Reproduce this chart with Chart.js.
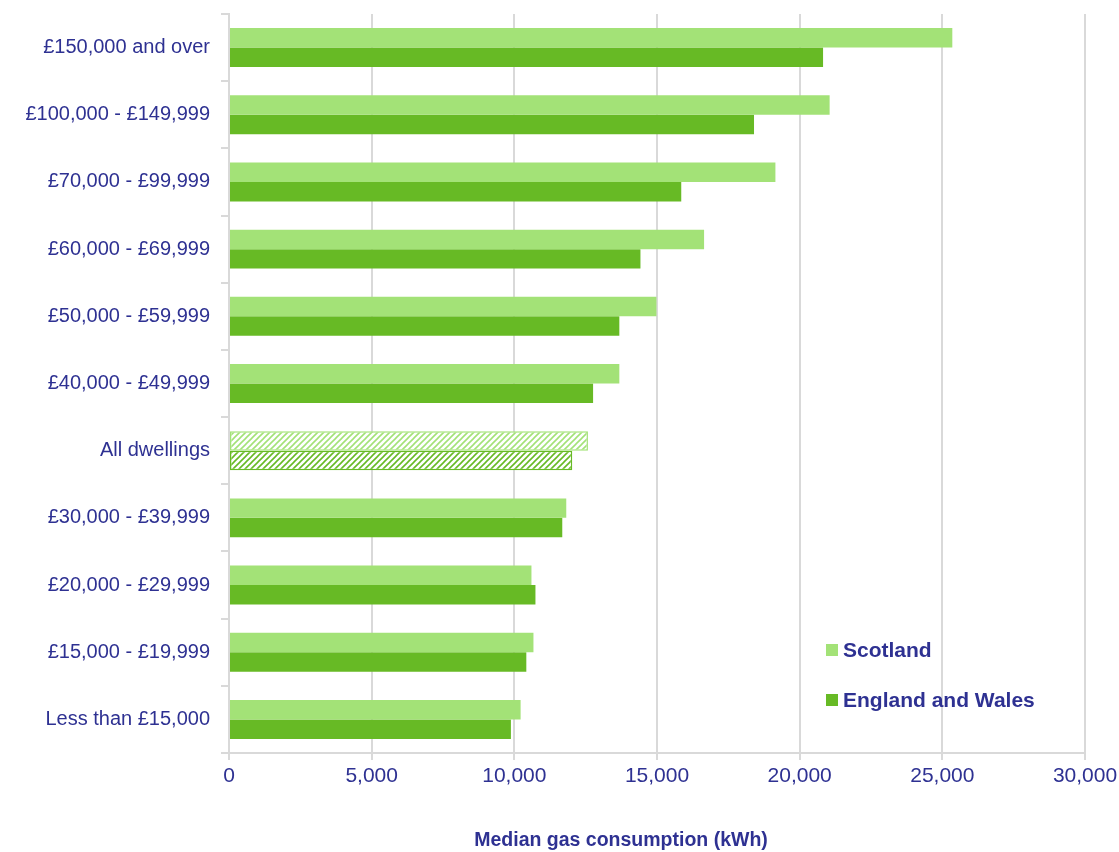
<!DOCTYPE html>
<html>
<head>
<meta charset="utf-8">
<script src="https://cdn.jsdelivr.net/npm/chart.js@4.4.1/dist/chart.umd.min.js"></script>
<style>
  html, body { margin: 0; background: #fff; }
  #wrap { width: 1119px; height: 852px; position: relative; }
</style>
</head>
<body>
<div id="wrap"><canvas id="chart"></canvas></div>
<script>
// Household income bands, top to bottom
const bands = [
  "£150,000 and over", "£100,000 - £149,999", "£70,000 - £99,999", "£60,000 - £69,999",
  "£50,000 - £59,999", "£40,000 - £49,999", "All dwellings", "£30,000 - £39,999",
  "£20,000 - £29,999", "£15,000 - £19,999", "Less than £15,000"
];
// Median gas consumption, kWh
const scotland     = [25350, 21050, 19150, 16650, 14980, 13680, 12580, 11820, 10600, 10670, 10220];
const englandWales = [20820, 18400, 15850, 14420, 13680, 12760, 12030, 11680, 10740, 10420, 9880];
const xTicks = [0, 5000, 10000, 15000, 20000, 25000, 30000];
const summaryBand = "All dwellings";

const navy = "#2E3192";
const lightGreen = "#A3E277";
const darkGreen = "#67BA25";
const gridGrey = "#D9D9D9";
const fontFamily = "'Liberation Sans', Arial, sans-serif";

// diagonal hatch for the "All dwellings" row
function hatch(color) {
  const c = document.createElement("canvas");
  c.width = 6; c.height = 6;
  const g = c.getContext("2d");
  g.fillStyle = "#fff";
  g.fillRect(0, 0, 6, 6);
  g.strokeStyle = color;
  g.lineWidth = 1.6;
  g.beginPath();
  g.moveTo(-1, 7); g.lineTo(7, -1);
  g.moveTo(-1, 1); g.lineTo(1, -1);
  g.moveTo(5, 7); g.lineTo(7, 5);
  g.stroke();
  return g.createPattern(c, "repeat");
}

const ctx = document.getElementById("chart").getContext("2d");
const fills = (color) => bands.map(b => b === summaryBand ? hatch(color) : color);
const borders = () => bands.map(b => b === summaryBand ? 1.5 : 0);

// legend drawn inside the plot, lower right
const innerLegend = {
  id: "innerLegend",
  afterDraw(chart) {
    const g = chart.ctx;
    const rows = [650, 700];
    g.save();
    g.font = "bold 21px " + fontFamily;
    g.textBaseline = "middle";
    chart.data.datasets.forEach((ds, i) => {
      g.fillStyle = ds.legendColor;
      g.fillRect(826, rows[i] - 6, 12, 12);
      g.fillStyle = navy;
      g.fillText(ds.label, 843, rows[i] + 1);
    });
    g.restore();
  }
};

// x axis caption
const xCaption = {
  id: "xCaption",
  afterDraw(chart) {
    const g = chart.ctx;
    g.save();
    g.font = "bold 19.5px " + fontFamily;
    g.fillStyle = navy;
    g.textAlign = "center";
    g.textBaseline = "middle";
    g.fillText("Median gas consumption (kWh)", 621, 841);
    g.restore();
  }
};

new Chart(ctx, {
  type: "bar",
  data: {
    labels: bands,
    datasets: [
      {
        label: "Scotland",
        data: scotland,
        legendColor: lightGreen,
        backgroundColor: fills(lightGreen),
        borderColor: lightGreen,
        borderWidth: borders(),
        borderSkipped: false
      },
      {
        label: "England and Wales",
        data: englandWales,
        legendColor: darkGreen,
        backgroundColor: fills(darkGreen),
        borderColor: darkGreen,
        borderWidth: borders(),
        borderSkipped: false
      }
    ]
  },
  options: {
    indexAxis: "y",
    responsive: true,
    maintainAspectRatio: false,
    animation: false,
    categoryPercentage: 0.58,
    barPercentage: 1.0,
    layout: { padding: { top: 14, right: 34, left: 10, bottom: 50 } },
    plugins: {
      legend: { display: false },
      tooltip: { enabled: false }
    },
    scales: {
      x: {
        min: xTicks[0],
        max: xTicks[xTicks.length - 1],
        afterBuildTicks: axis => { axis.ticks = xTicks.map(v => ({ value: v })); },
        afterFit: axis => {
          axis.height = 49;
          axis.paddingLeft = 0;
          axis.paddingRight = 0;
        },
        grid: { color: gridGrey, lineWidth: 2, tickLength: 7 },
        border: { color: gridGrey, width: 2 },
        ticks: {
          color: navy,
          padding: 4,
          font: { family: fontFamily, size: 21 },
          callback: v => v.toLocaleString("en-GB")
        }
      },
      y: {
        afterFit: axis => {
          axis.width = 219;
          axis.paddingTop = 0;
          axis.paddingBottom = 0;
        },
        grid: { drawOnChartArea: false, color: gridGrey, tickLength: 8, lineWidth: 2 },
        border: { color: gridGrey, width: 2 },
        ticks: {
          color: navy,
          padding: 11,
          font: { family: fontFamily, size: 20 }
        }
      }
    }
  },
  plugins: [innerLegend, xCaption]
});
</script>
</body>
</html>
